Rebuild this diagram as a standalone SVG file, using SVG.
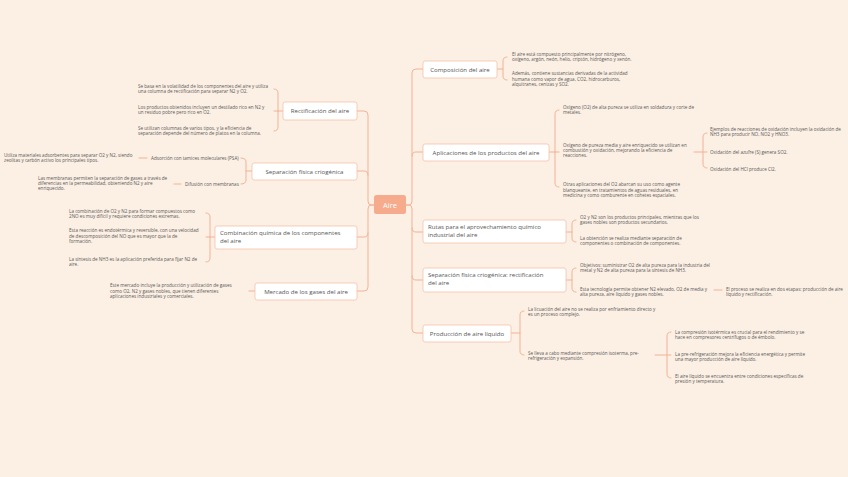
<svg xmlns="http://www.w3.org/2000/svg" width="848" height="477" viewBox="0 0 848 477">
<style>
.bg{fill:#fcefe3}
.node{fill:#ffffff;stroke:#f5c3aa;stroke-width:0.8}
.nt{font-family:"Open Sans","Liberation Sans",sans-serif;font-size:6.1px;fill:#555555}
.lt{font-family:"Open Sans","Liberation Sans",sans-serif;font-size:4.6px;fill:#5a5a5a}
.c{fill:none;stroke:#f2ad8f;stroke-width:0.9;stroke-linecap:round}
</style>
<rect class="bg" x="0" y="0" width="848" height="477"/>
<g id="connectors">
<path class="c" d="M406 205 H409 Q412 205 412 201 V73 Q412 69 416 69 H423"/>
<path class="c" d="M412 156 Q412 152 416 152 H423"/>
<path class="c" d="M406 205 H409 Q412 205 412 209 V329 Q412 333 416 333 H423"/>
<path class="c" d="M412 228 Q412 232 416 232 H423"/>
<path class="c" d="M412 276 Q412 280 416 280 H423"/>
<path class="c" d="M374 205 H371 Q368 205 368 201 V115 Q368 111 364 111 H357"/>
<path class="c" d="M368 175 Q368 171 364 171 H357"/>
<path class="c" d="M374 205 H371 Q368 205 368 209 V287 Q368 291 364 291 H357"/>
<path class="c" d="M368 233 Q368 237 364 237 H357"/>
<path class="c" d="M283 111 H278 M274 89 Q278 89 278 93 V127 Q278 131 274 131 M278 111 H274"/>
<path class="c" d="M252 171 H246 M241 158 Q246 158 246 162 V180 Q246 184 241 184"/>
<path class="c" d="M139 158 H147 M174 184 H181"/>
<path class="c" d="M215 237 H210 M206 213 Q210 213 210 217 V258 Q210 262 206 262 M210 237 H206"/>
<path class="c" d="M255 291 H249"/>
<path class="c" d="M497 69 H503 M507 57 Q503 57 503 61 V76 Q503 80 507 80"/>
<path class="c" d="M549 152 H555 M559 110 Q555 110 555 114 V183 Q555 187 559 187 M555 152 H559"/>
<path class="c" d="M694 152 H707 M707 133 Q703 133 703 137 V164 Q703 168 707 168"/>
<path class="c" d="M566 232 H572 M576 220 Q572 220 572 224 V238 Q572 242 576 242"/>
<path class="c" d="M566 280 H572 M576 268 Q572 268 572 272 V288 Q572 292 576 292"/>
<path class="c" d="M714 290 H722"/>
<path class="c" d="M511 333 H520 M524 311 Q520 311 520 315 V351 Q520 355 524 355"/>
<path class="c" d="M655 355 H671 M671 332 Q667 332 667 336 V374 Q667 378 671 378"/>
</g>
<g id="center">
<rect x="374" y="195" width="32" height="19" rx="2.5" fill="#f5ab8c"/>
<text x="390" y="207.5" text-anchor="middle" font-family="Open Sans, Liberation Sans, sans-serif" font-size="7.5" fill="#ffffff">Aire</text>
</g>
<g id="rectificacion">
<rect class="node" x="283" y="102" width="74" height="18" rx="2"/>
<text class="nt" x="320" y="113" text-anchor="middle">Rectificación del aire</text>
<text class="lt"><tspan x="138" y="88">Se basa en la volatilidad de los componentes del aire y utiliza</tspan><tspan x="138" dy="5.3">una columna de rectificación para separar N2 y O2.</tspan></text>
<text class="lt"><tspan x="138" y="109">Los productos obtenidos incluyen un destilado rico en N2 y</tspan><tspan x="138" dy="5.3">un residuo pobre pero rico en O2.</tspan></text>
<text class="lt"><tspan x="138" y="130">Se utilizan columnas de varios tipos, y la eficiencia de</tspan><tspan x="138" dy="5.3">separación depende del número de platos en la columna.</tspan></text>
</g>
<g id="separacion-izq">
<rect class="node" x="252" y="163" width="105" height="17" rx="2"/>
<text class="nt" x="304.5" y="173.5" text-anchor="middle">Separación física criogénica</text>
<text class="lt" x="151" y="159.5">Adsorción con tamices moleculares (PSA)</text>
<text class="lt" x="185" y="185.5">Difusión con membranas</text>
<text class="lt"><tspan x="4" y="156.5">Utiliza materiales adsorbentes para separar O2 y N2, siendo</tspan><tspan x="4" dy="5.3">zeolitas y carbón activo los principales tipos.</tspan></text>
<text class="lt"><tspan x="38" y="179.7">Las membranas permiten la separación de gases a través de</tspan><tspan x="38" dy="5.3">diferencias en la permeabilidad, obteniendo N2 y aire</tspan><tspan x="38" dy="5.3">enriquecido.</tspan></text>
</g>
<g id="combinacion">
<rect class="node" x="215" y="226" width="142" height="23" rx="2"/>
<text class="nt"><tspan x="220" y="234.8">Combinación química de los componentes</tspan><tspan x="220" dy="7.7">del aire</tspan></text>
<text class="lt"><tspan x="69" y="212.5">La combinación de O2 y N2 para formar compuestos como</tspan><tspan x="69" dy="5.3">2NO es muy difícil y requiere condiciones extremas.</tspan></text>
<text class="lt"><tspan x="69" y="232.2">Esta reacción es endotérmica y reversible, con una velocidad</tspan><tspan x="69" dy="5.3">de descomposición del NO que es mayor que la de</tspan><tspan x="69" dy="5.3">formación.</tspan></text>
<text class="lt"><tspan x="69" y="261">La síntesis de NH3 es la aplicación preferida para fijar N2 de</tspan><tspan x="69" dy="5.3">aire.</tspan></text>
</g>
<g id="mercado">
<rect class="node" x="255" y="283" width="102" height="17" rx="2"/>
<text class="nt" x="306" y="293.5" text-anchor="middle">Mercado de los gases del aire</text>
<text class="lt"><tspan x="110" y="287.2">Este mercado incluye la producción y utilización de gases</tspan><tspan x="110" dy="5.3">como O2, N2 y gases nobles, que tienen diferentes</tspan><tspan x="110" dy="5.3">aplicaciones industriales y comerciales.</tspan></text>
</g>
<g id="composicion">
<rect class="node" x="423" y="61" width="74" height="17" rx="2"/>
<text class="nt" x="460" y="71.5" text-anchor="middle">Composición del aire</text>
<text class="lt"><tspan x="512" y="55.5">El aire está compuesto principalmente por nitrógeno,</tspan><tspan x="512" dy="5.3">oxígeno, argón, neón, helio, criptón, hidrógeno y xenón.</tspan></text>
<text class="lt"><tspan x="512" y="75.2">Además, contiene sustancias derivadas de la actividad</tspan><tspan x="512" dy="5.3">humana como vapor de agua, CO2, hidrocarburos,</tspan><tspan x="512" dy="5.3">alquitranes, cenizas y SO2.</tspan></text>
</g>
<g id="aplicaciones">
<rect class="node" x="423" y="144" width="126" height="17" rx="2"/>
<text class="nt" x="486" y="154.5" text-anchor="middle">Aplicaciones de los productos del aire</text>
<text class="lt"><tspan x="563" y="108.5">Oxígeno (O2) de alta pureza se utiliza en soldadura y corte de</tspan><tspan x="563" dy="5.3">metales.</tspan></text>
<text class="lt"><tspan x="563" y="146.7">Oxígeno de pureza media y aire enriquecido se utilizan en</tspan><tspan x="563" dy="5.3">combustión y oxidación, mejorando la eficiencia de</tspan><tspan x="563" dy="5.3">reacciones.</tspan></text>
<text class="lt"><tspan x="563" y="186.2">Otras aplicaciones del O2 abarcan su uso como agente</tspan><tspan x="563" dy="5.3">blanqueante, en tratamientos de aguas residuales, en</tspan><tspan x="563" dy="5.3">medicina y como comburente en cohetes espaciales.</tspan></text>
<text class="lt"><tspan x="710" y="131">Ejemplos de reacciones de oxidación incluyen la oxidación de</tspan><tspan x="710" dy="5.3">NH3 para producir NO, NO2 y HNO3.</tspan></text>
<text class="lt" x="710" y="153.5">Oxidación del azufre (S) genera SO2.</text>
<text class="lt" x="710" y="170.5">Oxidación del HCl produce Cl2.</text>
</g>
<g id="rutas">
<rect class="node" x="423" y="220" width="143" height="23" rx="2"/>
<text class="nt"><tspan x="428" y="228.8">Rutas para el aprovechamiento químico</tspan><tspan x="428" dy="7.7">industrial del aire</tspan></text>
<text class="lt"><tspan x="580" y="218.5">O2 y N2 son los productos principales, mientras que los</tspan><tspan x="580" dy="5.3">gases nobles son productos secundarios.</tspan></text>
<text class="lt"><tspan x="580" y="239.5">La obtención se realiza mediante separación de</tspan><tspan x="580" dy="5.3">componentes o combinación de componentes.</tspan></text>
</g>
<g id="separacion-der">
<rect class="node" x="423" y="268" width="143" height="24" rx="2"/>
<text class="nt"><tspan x="428" y="277.3">Separación física criogénica: rectificación</tspan><tspan x="428" dy="7.7">del aire</tspan></text>
<text class="lt"><tspan x="580" y="266.5">Objetivos: suministrar O2 de alta pureza para la industria del</tspan><tspan x="580" dy="5.3">metal y N2 de alta pureza para la síntesis de NH3.</tspan></text>
<text class="lt"><tspan x="580" y="290.5">Esta tecnología permite obtener N2 elevado, O2 de media y</tspan><tspan x="580" dy="5.3">alta pureza, aire líquido y gases nobles.</tspan></text>
<text class="lt"><tspan x="726" y="290.5">El proceso se realiza en dos etapas: producción de aire</tspan><tspan x="726" dy="5.3">líquido y rectificación.</tspan></text>
</g>
<g id="produccion">
<rect class="node" x="423" y="325" width="88" height="17" rx="2"/>
<text class="nt" x="467" y="335.5" text-anchor="middle">Producción de aire líquido</text>
<text class="lt"><tspan x="528" y="310.5">La licuación del aire no se realiza por enfriamiento directo y</tspan><tspan x="528" dy="5.3">es un proceso complejo.</tspan></text>
<text class="lt"><tspan x="528" y="354.5">Se lleva a cabo mediante compresión isoterma, pre-</tspan><tspan x="528" dy="5.3">refrigeración y expansión.</tspan></text>
<text class="lt"><tspan x="675" y="333.5">La compresión isotérmica es crucial para el rendimiento y se</tspan><tspan x="675" dy="5.3">hace en compresores centrífugos o de émbolo.</tspan></text>
<text class="lt"><tspan x="675" y="355.5">La pre-refrigeración mejora la eficiencia energética y permite</tspan><tspan x="675" dy="5.3">una mayor producción de aire líquido.</tspan></text>
<text class="lt"><tspan x="675" y="377.5">El aire líquido se encuentra entre condiciones específicas de</tspan><tspan x="675" dy="5.3">presión y temperatura.</tspan></text>
</g>
</svg>
